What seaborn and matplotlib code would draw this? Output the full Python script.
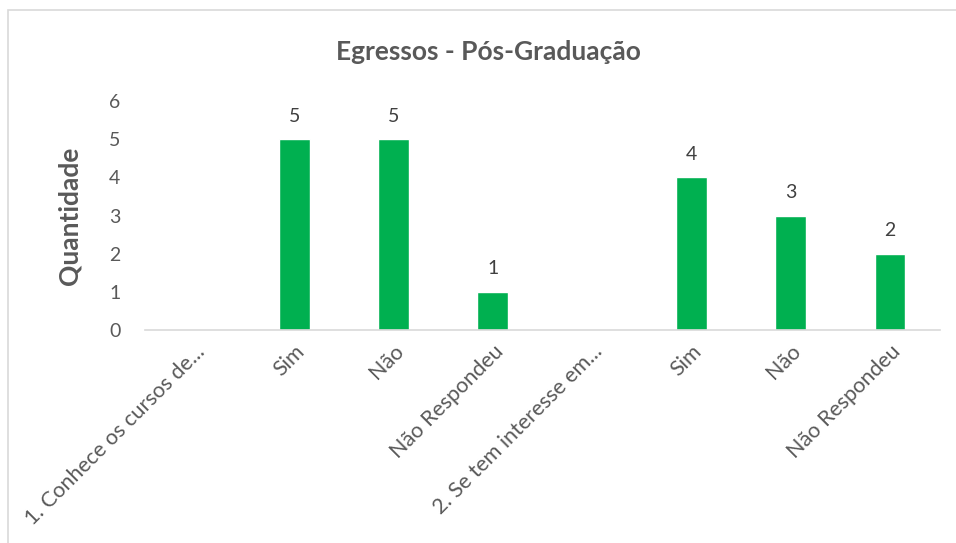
import numpy as np
import pandas as pd
import seaborn as sns
import matplotlib.pyplot as plt
from matplotlib.patches import Rectangle

categorias = ['1. Conhece os cursos de...', 'Sim', 'Não', 'Não Respondeu',
              '2. Se tem interesse em...', 'Sim', 'Não', 'Não Respondeu']
quantidade = [np.nan, 5, 5, 1, np.nan, 4, 3, 2]
yticks = [0, 1, 2, 3, 4, 5, 6]

sns.set_style('white')
plt.rcParams['font.family'] = ['Lato', 'DejaVu Sans']

cinza = '#595959'
verde = '#00B050'

df = pd.DataFrame({'pos': range(len(categorias)), 'qtd': quantidade})

fig = plt.figure(figsize=(9.56, 5.43), dpi=100)
ax = fig.add_axes([0.152, 0.392, 0.831, 0.422])

sns.barplot(data=df, x='pos', y='qtd', color=verde, width=0.31,
            saturation=1, ax=ax)

for p, v in zip(df['pos'], df['qtd']):
    if not np.isnan(v):
        ax.text(p, v + 0.38, '%d' % v, ha='center', va='bottom',
                fontsize=14, color='#404040')

ax.set_ylim(0, 6)
ax.set_yticks(yticks)
ax.set_xlim(-0.5, len(categorias) - 0.5)
ax.set_xticks(range(len(categorias)))
ax.set_xticklabels(categorias, rotation=45, ha='right',
                   rotation_mode='anchor', fontsize=15.5, color=cinza)
for item in ax.get_yticklabels():
    item.set_fontsize(14)
    item.set_color(cinza)
ax.tick_params(axis='both', length=0)
ax.tick_params(axis='y', pad=18)
ax.tick_params(axis='x', pad=8)

for s in ['top', 'right', 'left']:
    ax.spines[s].set_visible(False)
ax.spines['bottom'].set_color('#d9d9d9')
ax.spines['bottom'].set_linewidth(1.2)

ax.set_xlabel('')
ax.set_ylabel('Quantidade', fontsize=19, fontweight='bold', color=cinza,
              labelpad=20)
fig.text(0.511, 0.905, 'Egressos - Pós-Graduação', ha='center', va='center',
         fontsize=19, fontweight='bold', color=cinza)

fig.add_artist(Rectangle((8 / 956, -0.1), 1.0, 1.1 - 10 / 543,
                         transform=fig.transFigure, fill=False,
                         edgecolor='#d9d9d9', linewidth=1.2))

plt.savefig('out.png', dpi=100)
